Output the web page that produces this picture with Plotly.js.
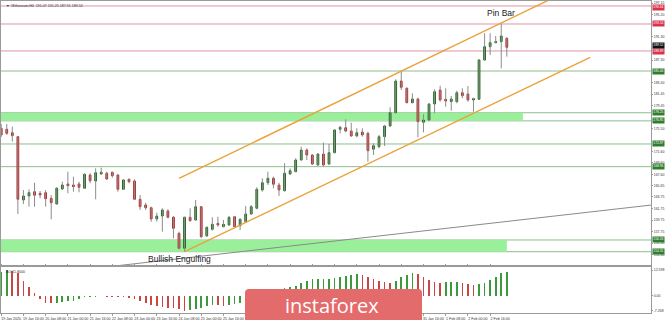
<!DOCTYPE html>
<html><head><meta charset="utf-8">
<script src="https://cdn.plot.ly/plotly-3.0.1.min.js"></script>
<style>html,body{margin:0;padding:0;background:#fff;}#chart{width:665px;height:320px;}</style>
</head><body><div id="chart"></div>
<script>
const symbol = "#Ethereum,H4";
const opens  = [175.57,175.40,174.81,174.13,163.22,163.91,164.65,164.37,164.48,163.51,162.53,165.12,165.98,165.80,165.98,165.24,167.53,166.49,167.70,167.82,167.99,167.53,165.06,166.79,166.49,163.34,162.36,161.89,159.95,160.46,161.33,160.24,157.48,154.90,160.24,159.77,162.07,157.02,158.17,159.20,158.62,158.91,160.34,158.79,159.48,160.81,161.79,164.94,166.20,166.96,165.80,164.82,167.70,168.10,170.11,171.83,170.97,169.25,171.14,169.42,171.37,175.40,175.67,175.10,174.25,174.93,174.71,171.97,172.40,174.13,175.97,178.26,183.72,182.46,179.98,180.62,176.61,177.00,179.76,182.17,180.57,180.16,180.16,181.70,181.48,180.45,180.57,187.34,189.63,190.32,190.49,191.07];
const highs  = [176.31,176.31,175.85,174.25,164.94,165.06,166.20,164.77,164.94,164.08,165.41,166.37,168.10,167.23,166.37,167.82,167.82,168.68,168.78,168.10,168.10,167.65,166.79,166.89,166.79,164.08,162.75,162.07,161.03,161.79,161.62,160.46,157.76,160.34,161.79,163.22,162.19,158.62,160.24,160.34,159.77,160.46,160.46,160.07,162.19,162.36,165.41,166.96,168.10,167.23,166.20,169.54,168.68,170.40,172.40,172.12,171.14,171.26,173.09,172.87,175.40,175.97,177.12,176.54,175.57,175.57,174.99,172.99,174.42,176.14,179.19,184.01,185.44,182.63,181.60,180.84,177.98,179.88,182.29,182.91,182.46,181.14,182.05,182.46,182.86,180.84,187.46,191.94,191.94,191.47,193.66,191.25];
const lows   = [174.07,174.42,173.26,160.81,162.53,162.07,162.07,163.51,162.07,159.90,162.45,164.94,164.37,164.65,164.55,165.12,166.10,163.34,167.53,166.67,167.06,164.65,164.94,166.10,163.22,161.50,161.50,159.48,159.48,157.76,160.07,156.62,154.73,154.31,159.48,159.65,156.62,156.90,157.93,158.62,158.52,158.79,158.35,158.05,159.31,160.64,161.62,164.65,165.80,165.24,163.91,164.65,167.53,168.00,169.99,170.11,169.25,169.13,168.96,169.25,171.26,174.71,174.88,174.13,174.02,174.13,169.82,170.97,172.12,172.52,175.85,178.16,182.17,179.88,179.88,174.02,174.88,176.88,178.16,180.15,179.29,178.60,179.88,180.74,180.15,178.43,180.45,187.22,188.20,190.22,185.91,187.91];
const closes = [174.42,174.71,174.30,163.34,163.91,164.48,164.03,164.08,163.44,162.75,165.24,165.80,165.68,165.51,165.41,167.65,166.54,167.92,167.99,166.84,167.41,165.06,166.67,166.37,163.34,162.07,161.89,159.95,160.46,161.50,160.24,158.35,154.90,160.24,159.65,162.07,156.90,158.52,159.03,158.91,159.03,160.24,158.62,159.89,160.81,162.07,165.06,166.20,166.96,165.93,164.94,167.82,168.27,170.11,171.83,170.97,169.42,171.14,169.25,171.37,175.28,175.74,175.10,174.25,174.81,174.42,171.71,172.57,174.13,175.97,178.26,183.72,182.63,179.98,180.62,176.71,177.00,179.76,181.88,180.45,180.27,180.62,181.70,181.19,180.45,180.67,187.34,189.63,190.32,190.49,191.47,189.52];
const aoValues = [11.9,12.598,12.3,11.0,7.5,4.5,1.6,-1.6,-3.2,-3.6,-3.2,-2.8,-2.6,-2.3,-1.6,-0.65,-0.4,-0.3,-0.25,-0.35,-0.4,-0.5,-0.7,-1.0,-1.6,-2.3,-3.2,-4.4,-4.9,-5.2,-5.7,-6.0,-6.5,-7.268,-6.9,-6.5,-5.7,-4.7,-4.4,-4.5,-4.7,-4.4,-4.0,-3.6,-2.9,-2.1,-1.0,0.2,1.3,2.2,3.0,3.7,4.5,5.0,6.1,7.3,8.1,8.3,8.35,8.45,8.6,9.1,9.7,10.2,10.5,10.4,9.4,8.1,7.3,7.0,6.5,7.4,9.1,10.2,11.0,10.9,9.4,7.8,7.0,6.5,6.6,6.7,6.75,6.5,5.8,5.3,5.8,6.5,7.8,9.4,11.0,11.8];
// labels hidden under the watermark in the reference are left blank
const timeLabels = ["19 Jan 2020","19 Jan 16:00","20 Jan 08:00","21 Jan 00:00","21 Jan 16:00","22 Jan 08:00","23 Jan 00:00","23 Jan 16:00","24 Jan 08:00","25 Jan 00:00","25 Jan 16:00","","","","","","","","","31 Jan 16:00","1 Feb 08:00","2 Feb 00:00","2 Feb 16:00"];
const priceTicks = [197.15,195.20,191.30,187.30,183.40,181.45,179.45,175.50,171.60,169.60,167.60,165.65,163.75,161.75,159.75,157.75,155.80,153.80,151.85];
const oscTicks = [12.598,0,-7.268];
const redLevels = [196.64,193.54,188.89];
const greenLevels = [185.44,178.25,176.85,172.87,168.96,156.33,154.31];
const zoneLow = [176.85,154.31];
const zoneHigh = [178.25,156.33];
const zoneEnd = [93.9,91.0];
const upperX = [32,99],   upperY = [166.96,197.87];
const lowerX = [33,106],  lowerY = [154.31,187.80];
const longX  = [17.8,117], longY = [151.56,162.35];
const pinBarIndex = 90, engulfIndex = 33;

const idx = opens.map((_, i) => i);
const wx = [], wy = [];
idx.forEach(i => { wx.push(i, i, null); wy.push(lows[i], highs[i], null); });
const bodyHigh = idx.map(i => Math.max(opens[i], closes[i]));
const bodyLow  = idx.map(i => Math.min(opens[i], closes[i]));
const aoColors = aoValues.map((v, i) => (i === 0 || v >= aoValues[i-1]) ? '#3c9a3c' : '#c84646');
const small = {family:'Liberation Sans, Arial, sans-serif', size:3.6, color:'#333'};

const traces = [
  {type:'scatter', mode:'lines', x:wx, y:wy, line:{color:'#8c8c8c', width:1}, hoverinfo:'skip', xaxis:'x', yaxis:'y'},
  {type:'candlestick', x:idx, open:opens, high:bodyHigh, low:bodyLow, close:closes, whiskerwidth:0,
   increasing:{fillcolor:'#2c872c', line:{color:'#1d661d', width:1}},
   decreasing:{fillcolor:'#e03a3a', line:{color:'#b32828', width:1}}, xaxis:'x', yaxis:'y'},
  {type:'scatter', mode:'lines', x:longX, y:longY, line:{color:'#8a8a8a', width:1}, xaxis:'x', yaxis:'y'},
  {type:'scatter', mode:'lines', x:upperX, y:upperY, line:{color:'#e9a23b', width:1.4}, xaxis:'x', yaxis:'y'},
  {type:'scatter', mode:'lines', x:lowerX, y:lowerY, line:{color:'#e9a23b', width:1.4}, xaxis:'x', yaxis:'y'},
  {type:'bar', x:idx, y:aoValues, width:0.3, marker:{color:aoColors, line:{width:0}}, xaxis:'x', yaxis:'y2'}
];

const shapes = [];
zoneLow.forEach((lo, k) => shapes.push({type:'rect', layer:'below', xref:'x', yref:'y', x0:-2, x1:zoneEnd[k], y0:lo, y1:zoneHigh[k], fillcolor:'#9af09a', line:{width:0}}));
greenLevels.forEach(v => shapes.push({type:'line', layer:'below', xref:'paper', yref:'y', x0:0, x1:1, y0:v, y1:v, line:{color:'#8cbf8c', width:1}}));
redLevels.forEach(v => shapes.push({type:'line', layer:'below', xref:'paper', yref:'y', x0:0, x1:1, y0:v, y1:v, line:{color:'#df93a4', width:1}}));
// watermark box (paper coords)
(function(){
  const x0=0.3754, x1=0.6477, yt=0.0769, yb=-0.04, rx=0.0062, ry=0.0128;
  shapes.push({type:'path', layer:'above', xref:'paper', yref:'paper',
    path:`M ${x0},${yb} L ${x0},${yt-ry} Q ${x0},${yt} ${x0+rx},${yt} L ${x1-rx},${yt} Q ${x1},${yt} ${x1},${yt-ry} L ${x1},${yb} Z`,
    fillcolor:'#e46b6b', line:{width:0}});
})();

const last = opens.length - 1;
const annotations = [
  {xref:'paper', yref:'paper', x:0.004, y:1, yshift:-1, xanchor:'left', yanchor:'top', showarrow:false,
   text:`▼ ${symbol}  ${opens[last].toFixed(2)} ${highs[last].toFixed(2)} ${lows[last].toFixed(2)} ${closes[last].toFixed(2)}`, font:small},
  {xref:'paper', yref:'paper', x:0.004, y:0.1474, yshift:-1, xanchor:'left', yanchor:'top', showarrow:false,
   text:`AO ${aoValues[last].toFixed(4)}`, font:small},
  {xref:'x', yref:'y', x:pinBarIndex, y:195.43, showarrow:false, text:'Pin Bar',
   font:{family:'Liberation Sans, Arial, sans-serif', size:8.5, color:'#222'}},
  {xref:'x', yref:'y', x:engulfIndex - 1, y:153.06, showarrow:false, text:'Bullish Engulfing',
   font:{family:'Liberation Sans, Arial, sans-serif', size:8.5, color:'#222'}},
  {xref:'paper', yref:'paper', x:0.509, y:0.0353, yanchor:'middle', yshift:-4, showarrow:false, text:'instaforex',
   font:{family:'Open Sans, sans-serif', size:20, color:'#ffffff'}}
];
const boxFont = {family:'Liberation Sans, Arial, sans-serif', size:3.3, color:'#fff'};
const boxShift = {196.64:-1.5, 188.89:-1};
redLevels.forEach(v => annotations.push({xref:'paper', yref:'y', x:1, y:v, xanchor:'left', xshift:1, yshift:boxShift[v] || 0, showarrow:false, text:v.toFixed(2), bgcolor:'#d8344c', borderpad:0.3, font:boxFont}));
greenLevels.forEach(v => annotations.push({xref:'paper', yref:'y', x:1, y:v, xanchor:'left', xshift:1, showarrow:false, text:v.toFixed(2), bgcolor:'#2f7d2f', borderpad:0.3, font:boxFont}));
annotations.push({xref:'paper', yref:'y', x:1, y:closes[last], xanchor:'left', xshift:1, yshift:1.5, showarrow:false, text:closes[last].toFixed(2), bgcolor:'#111', borderpad:0.3, font:boxFont});

const axisLine = '#9a9a9a';
const layout = {
  width:665, height:320,
  margin:{l:1, r:14, t:1, b:7, pad:0},
  paper_bgcolor:'#ffffff', plot_bgcolor:'#ffffff',
  showlegend:false, boxgap:0.55, bargap:0,
  xaxis:{range:[-0.036,116.95], anchor:'y2', showgrid:false, zeroline:false, showline:true, linecolor:axisLine, linewidth:1, mirror:'all',
    ticks:'outside', ticklen:2, tickcolor:axisLine, tickvals:timeLabels.map((_, k) => k*4), ticktext:timeLabels,
    tickfont:small, tickangle:0, ticklabelshift:10, ticklabelstandoff:0, rangeslider:{visible:false}, fixedrange:true},
  yaxis:{domain:[0.15385,1], range:[152.02,197.50], side:'right', anchor:'x', showgrid:false, zeroline:false, showline:true, mirror:true,
    linecolor:axisLine, linewidth:1, ticks:'outside', ticklen:1, tickcolor:axisLine, tickvals:priceTicks, ticktext:priceTicks.map(v => v.toFixed(2)),
    tickfont:{family:'Liberation Sans, Arial, sans-serif', size:3.5, color:'#333'}, fixedrange:true},
  yaxis2:{domain:[0,0.14744], range:[-8.3,14.1], side:'right', anchor:'x', showgrid:false, zeroline:false, showline:true, mirror:true,
    linecolor:axisLine, linewidth:1, ticks:'outside', ticklen:1, tickcolor:axisLine, tickvals:oscTicks,
    ticktext:oscTicks.map(v => v === 0 ? '0.00' : v.toFixed(3)),
    tickfont:{family:'Liberation Sans, Arial, sans-serif', size:3.5, color:'#333'}, fixedrange:true},
  shapes:shapes, annotations:annotations
};
Plotly.newPlot('chart', traces, layout, {staticPlot:true, displayModeBar:false});
</script></body></html>
